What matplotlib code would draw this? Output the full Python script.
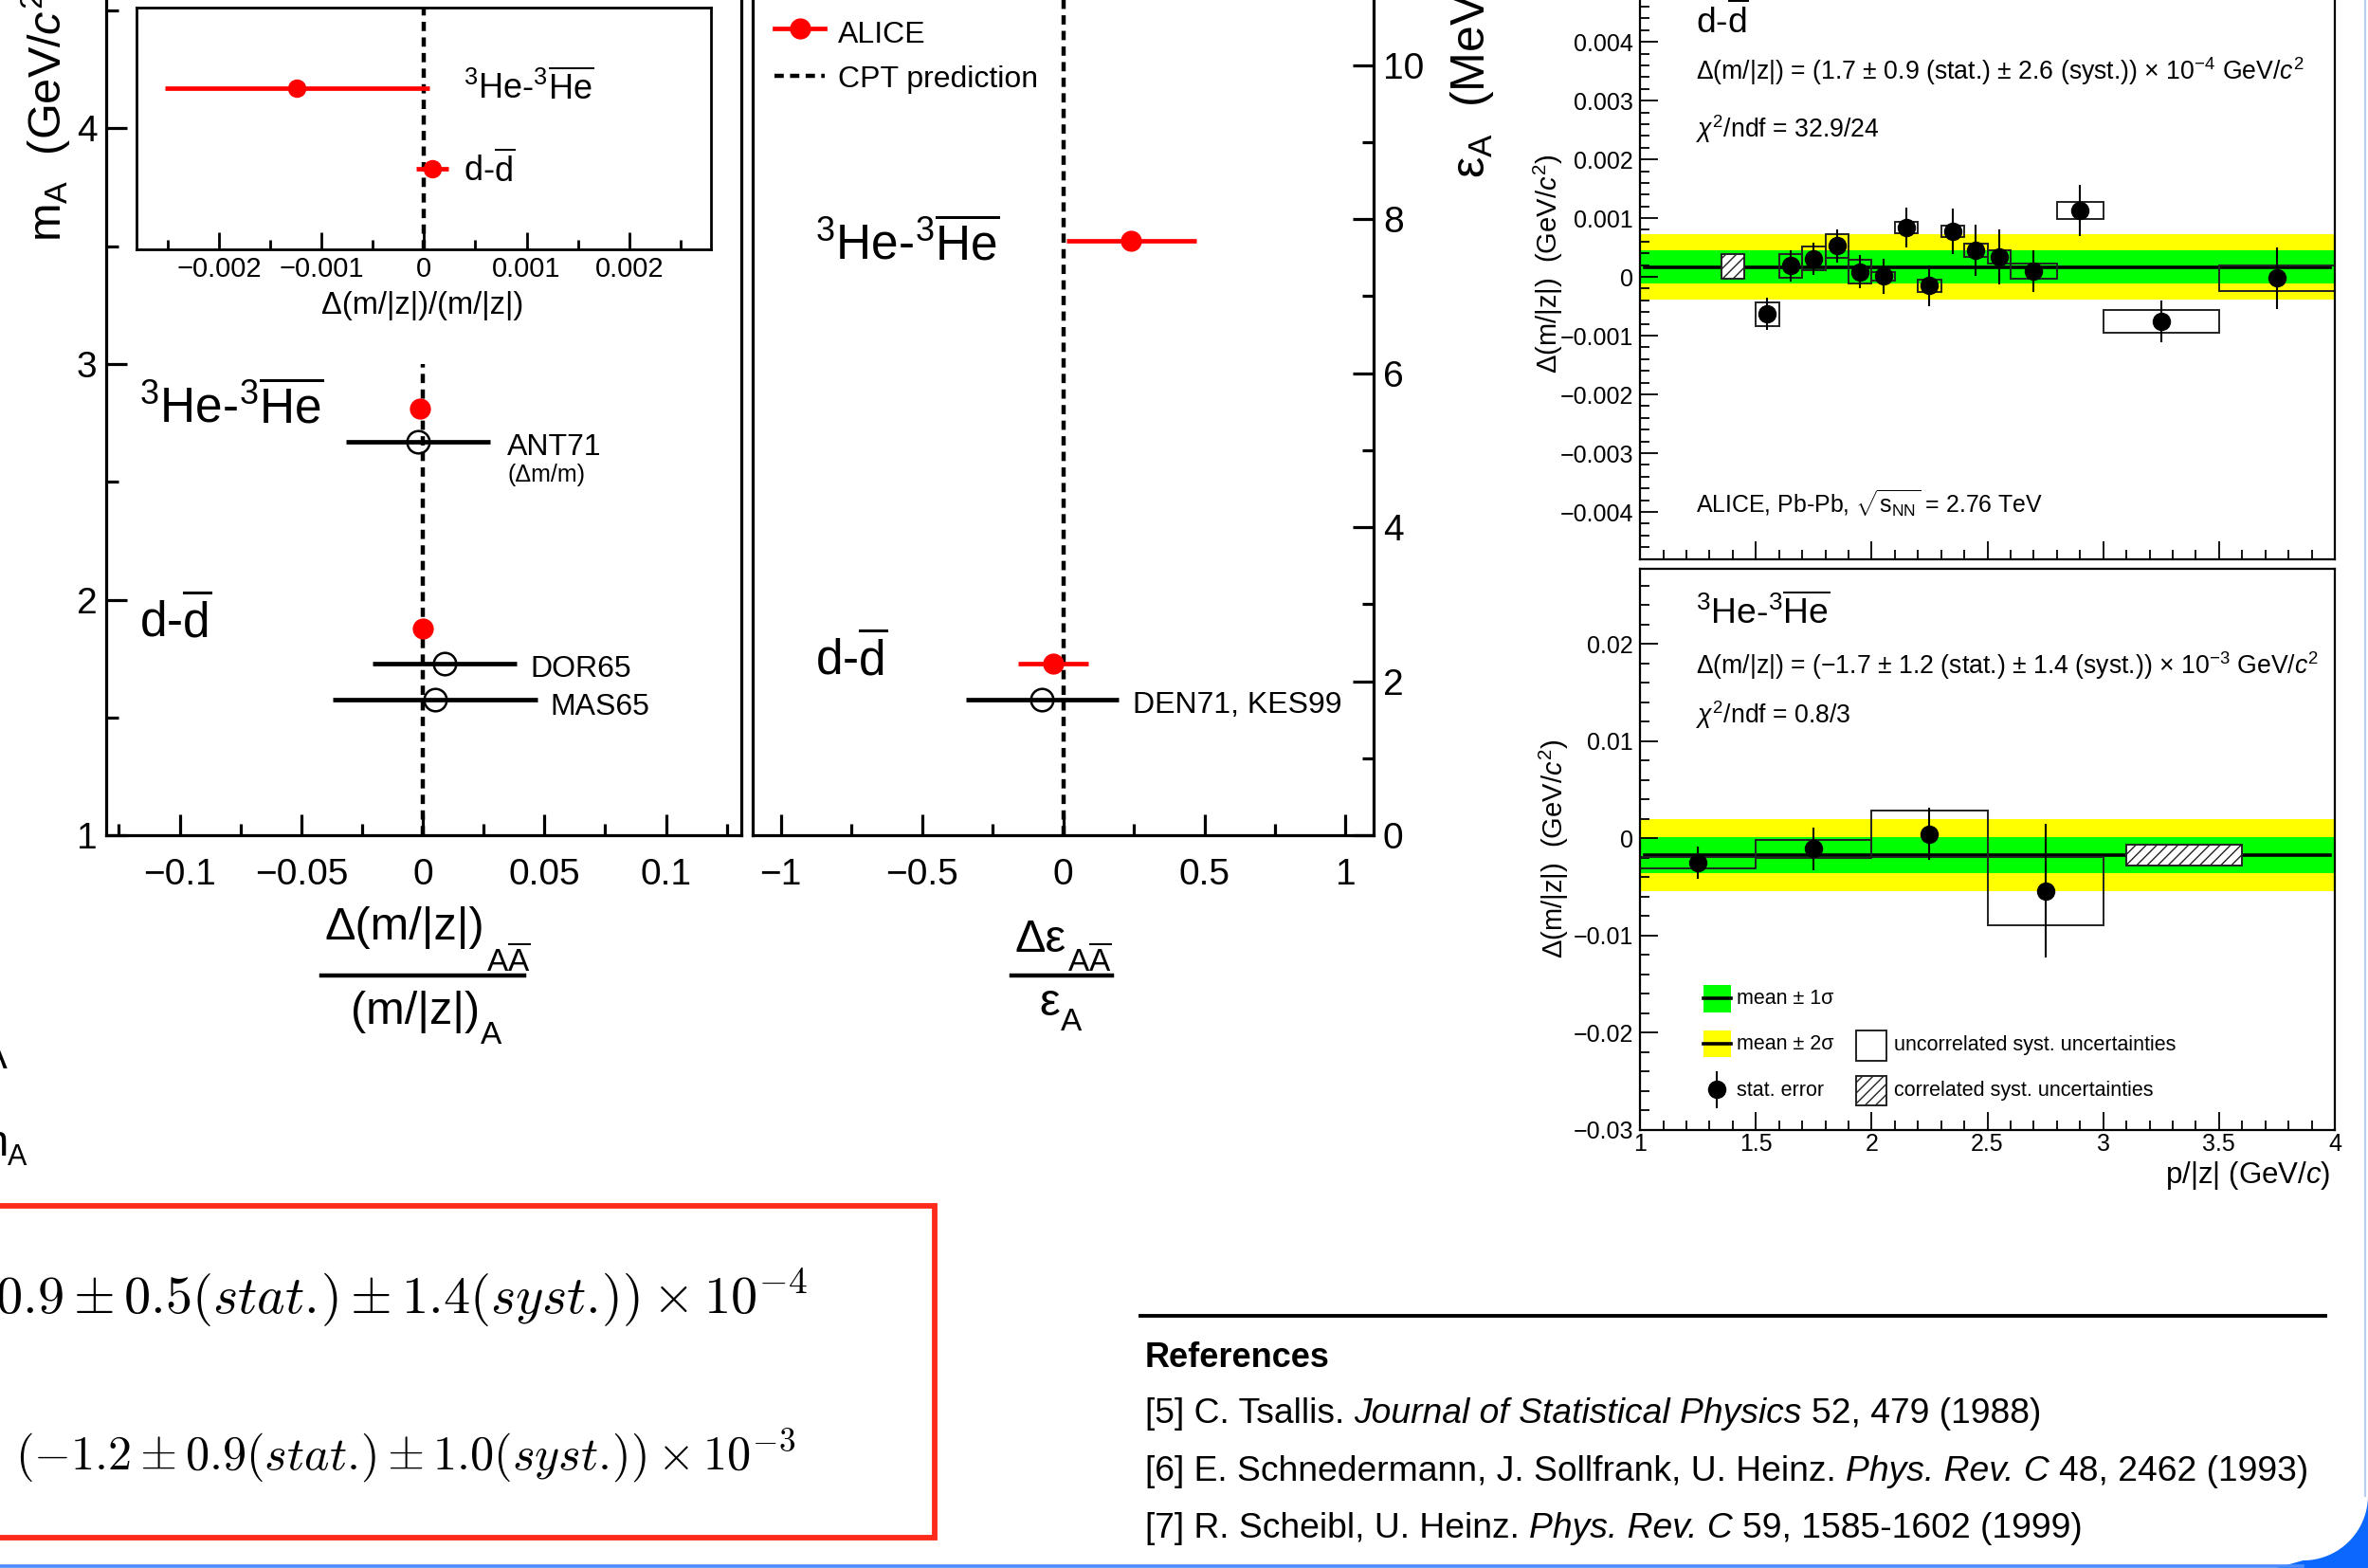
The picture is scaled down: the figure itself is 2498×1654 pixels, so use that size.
import matplotlib
matplotlib.use("Agg")
import matplotlib.pyplot as plt
from matplotlib.patches import Rectangle, Polygon
from matplotlib.lines import Line2D
from matplotlib.ticker import MultipleLocator
import numpy as np

plt.rcParams["font.family"] = ["Liberation Sans", "DejaVu Sans"]
plt.rcParams["mathtext.fontset"] = "custom"
plt.rcParams["mathtext.rm"] = "Liberation Sans"
plt.rcParams["mathtext.it"] = "Liberation Sans:italic"
plt.rcParams["mathtext.bf"] = "Liberation Sans:bold"
plt.rcParams["hatch.linewidth"] = 1.0

# ---------------- data ----------------
# mass / charge comparison, ALICE vs older measurements
species = ["3He", "d"]
mass_alice = [2.809, 1.876]             # m_A (GeV/c^2)
mz_alice = [-0.00124, 0.00008]          # Delta(m/|z|)/(m/|z|)
mz_alice_err = [0.00129, 0.00016]
inset_rows = [2, 1]

mz_old_labels = ["ANT71", "DOR65", "MAS65"]
mz_old_mass = [2.67, 1.727, 1.576]
mz_old = [-0.002, 0.009, 0.005]
mz_old_err = [0.0295, 0.0295, 0.042]

# binding energy comparison
eps_alice = [7.718, 2.224]              # eps_A (MeV)
deps_alice = [0.24, -0.035]
deps_alice_err = [0.23, 0.125]
eps_old_labels = ["DEN71, KES99"]
eps_old = [1.765]
deps_old = [-0.075]
deps_old_err = [0.27]

cpt_prediction = 0.0

# d - dbar vs p/|z|
d_lo = [1.5, 1.6, 1.7, 1.8, 1.9, 2.0, 2.1, 2.2, 2.3, 2.4, 2.5, 2.6, 2.8, 3.0, 3.5]
d_hi = [1.6, 1.7, 1.8, 1.9, 2.0, 2.1, 2.2, 2.3, 2.4, 2.5, 2.6, 2.8, 3.0, 3.5, 4.0]
d_p = [1.55, 1.65, 1.75, 1.85, 1.95, 2.05, 2.15, 2.25, 2.35, 2.45, 2.55, 2.7, 2.9, 3.25, 3.75]
d_val = [-0.00063, 0.00019, 0.00031, 0.00053, 0.00009, 0.00001, 0.00084, -0.00015,
         0.00078, 0.00045, 0.00034, 0.00010, 0.00113, -0.00076, -0.00002]
d_stat = [0.00027, 0.00027, 0.00027, 0.00028, 0.00029, 0.00030, 0.00034, 0.00035,
          0.00039, 0.00044, 0.00046, 0.00036, 0.00043, 0.00035, 0.00052]
d_syst = [0.00020, 0.00020, 0.00020, 0.00020, 0.00020, 0.00007, 0.00009, 0.00010,
          0.00010, 0.00011, 0.00012, 0.00013, 0.00015, 0.00019, 0.00022]
d_corr = (1.35, 1.45, 0.00018, 0.00021)   # lo, hi, centre, half height
d_mean, d_stat_tot, d_syst_tot = 1.7e-4, 0.9e-4, 2.6e-4

# 3He - 3Hebar vs p/|z|
he_lo = [1.0, 1.5, 2.0, 2.5]
he_hi = [1.5, 2.0, 2.5, 3.0]
he_p = [1.25, 1.75, 2.25, 2.75]
he_val = [-0.0025, -0.00105, 0.00045, -0.0054]
he_stat = [0.00164, 0.0022, 0.0027, 0.0069]
he_syst = [0.0006, 0.00094, 0.0024, 0.0035]
he_corr = (3.1, 3.6, -0.0017, 0.00106)
he_mean, he_stat_tot, he_syst_tot = -1.7e-3, 1.2e-3, 1.4e-3

mz_xticks = [-0.1, -0.05, 0, 0.05, 0.1]
mz_xlabels = ["\u22120.1", "\u22120.05", "0", "0.05", "0.1"]
mass_yticks = [1, 2, 3, 4]
inset_xticks = [-0.002, -0.001, 0, 0.001, 0.002]
inset_xlabels = ["\u22120.002", "\u22120.001", "0", "0.001", "0.002"]
eps_xticks = [-1, -0.5, 0, 0.5, 1]
eps_xlabels = ["\u22121", "\u22120.5", "0", "0.5", "1"]
eps_yticks = [0, 2, 4, 6, 8, 10]
d_yticks = [-0.004, -0.003, -0.002, -0.001, 0, 0.001, 0.002, 0.003, 0.004]
d_ylabels = ["\u22120.004", "\u22120.003", "\u22120.002", "\u22120.001", "0",
             "0.001", "0.002", "0.003", "0.004"]
he_yticks = [-0.03, -0.02, -0.01, 0, 0.01, 0.02]
he_ylabels = ["\u22120.03", "\u22120.02", "\u22120.01", "0", "0.01", "0.02"]
p_xticks = [1, 1.5, 2, 2.5, 3, 3.5, 4]
p_xlabels = ["1", "1.5", "2", "2.5", "3", "3.5", "4"]

refs = [
    [("[5] C. Tsallis.", "normal"), ("Journal of Statistical Physics", "italic"),
     ("52, 479 (1988)", "normal")],
    [("[6] E. Schnedermann, J. Sollfrank, U. Heinz.", "normal"), ("Phys. Rev. C", "italic"),
     ("48, 2462 (1993)", "normal")],
    [("[7] R. Scheibl, U. Heinz.", "normal"), ("Phys. Rev. C", "italic"),
     ("59, 1585-1602 (1999)", "normal")],
]

# ---------------- layout helpers (reference pixel grid 1568 x 1038) ----------------
W, H = 1568.0, 1038.0
FIGW, FIGH = 2498, 1654
SC = FIGW / W           # figure pixels per reference pixel


def fx(x):
    return x / W


def fy(y):
    return 1 - y / H


def rect(x0, y0, x1, y1):
    return [fx(x0), fy(y1), (x1 - x0) / W, (y1 - y0) / H]


fig = plt.figure(figsize=(FIGW / 100, FIGH / 100), dpi=100)
fig.patch.set_facecolor("white")
rend = fig.canvas.get_renderer()


def txt(x, y, s, size, **kw):
    kw.setdefault("va", "baseline")
    kw.setdefault("ha", "left")
    return fig.text(fx(x), fy(y), s, fontsize=size, **kw)


def right_edge(t):
    return t.get_window_extent(rend).x1 / SC


def fit(t, target):
    w = t.get_window_extent(rend).width / SC
    t.set_fontsize(t.get_fontsize() * target / w)
    return t.get_fontsize()


def with_sub(x, y, main, sub, size, ssize, sy):
    t = txt(x, y, main, size)
    txt(right_edge(t) + 1, sy, sub, ssize)


def fline(xs, ys, **kw):
    fig.add_artist(Line2D([fx(v) for v in xs], [fy(v) for v in ys],
                          transform=fig.transFigure, **kw))


DASH = (0, (2.2, 1.5))
HE = r"$^{3}$He-$^{3}\overline{\mathrm{He}}$"
DD = r"d-$\overline{\mathrm{d}}$"
AA = r"A$\overline{\mathrm{A}}$"


def style_axis(ax, lw=2.3):
    for s in ax.spines.values():
        s.set_linewidth(lw)


# ---------------- left panel: mass / charge ----------------
ax1 = fig.add_axes(rect(70.5, 553 - 4 * 156, 491, 553))
ax1.set_xlim((70.5 - 280) / 1610, (491 - 280) / 1610)
ax1.set_ylim(1, 5)
style_axis(ax1)
ax1.spines["top"].set_visible(False)
ax1.set_xticks(mz_xticks, mz_xlabels)
ax1.xaxis.set_minor_locator(MultipleLocator(0.025))
ax1.set_yticks(mass_yticks, [str(v) for v in mass_yticks])
ax1.yaxis.set_minor_locator(MultipleLocator(0.5))
ax1.tick_params(which="both", direction="in", top=False, right=False, width=2.3)
ax1.tick_params(which="major", length=16, labelsize=28)
ax1.tick_params(axis="x", which="major", pad=17)
ax1.tick_params(axis="y", which="major", pad=7)
ax1.tick_params(which="minor", length=9)
ax1.axvline(cpt_prediction, ymin=0, ymax=0.5, color="k", lw=3.2, ls=DASH, zorder=1)
ax1.errorbar(mz_old, mz_old_mass, xerr=mz_old_err, fmt="o", ms=17, mfc="none", mec="k",
             mew=1.8, ecolor="k", elinewidth=3.4, capsize=0, zorder=2)
ax1.errorbar(mz_alice, mass_alice, xerr=mz_alice_err, fmt="o", ms=15, color="red",
             elinewidth=3.4, capsize=0, zorder=3)

txt(92, 280, HE, 37)
txt(92, 422, DD, 37)
txt(336, 301, mz_old_labels[0], 23)
txt(336, 319, "(\u0394m/m)", 18)
txt(351, 448, mz_old_labels[1], 23)
txt(364, 473, mz_old_labels[2], 23)

# fraction label under left panel
with_sub(215, 622, "\u0394(m/|z|)", AA, 35, 24, 643)
fline([213, 347], [646, 646], color="k", lw=3.2)
with_sub(232, 678, "(m/|z|)", "A", 35, 24, 691)
txt(30, 160, r"m$_{\mathrm{A}}$  (GeV/$c^{2}$)", 35, rotation=90, ha="center", va="bottom")

# inset
axi = fig.add_axes(rect(90.6, 5, 471, 165))
axi.set_xlim(-0.0028, 0.0028)
axi.set_ylim(0, 3)
style_axis(axi, 2.0)
axi.set_xticks(inset_xticks, inset_xlabels)
axi.xaxis.set_minor_locator(MultipleLocator(0.0005))
axi.set_yticks([])
axi.tick_params(which="both", direction="in", top=False, width=2.0)
axi.tick_params(which="major", length=13, labelsize=21, pad=5)
axi.tick_params(which="minor", length=7)
axi.axvline(cpt_prediction, color="k", lw=3.2, ls=DASH, zorder=1)
axi.errorbar(mz_alice, inset_rows, xerr=mz_alice_err, fmt="o", ms=13, color="red",
             elinewidth=3.4, capsize=0, zorder=3)
txt(307, 66, HE, 26)
txt(307, 120, DD, 26)
txt(280, 208, "\u0394(m/|z|)/(m/|z|)", 23.5, ha="center")

# ---------------- middle panel: binding energy ----------------
ax2 = fig.add_axes(rect(704 - 1.1 * 187, 553 - 12 * 51, 704 + 1.1 * 187, 553))
ax2.set_xlim(-1.1, 1.1)
ax2.set_ylim(0, 12)
style_axis(ax2)
ax2.spines["top"].set_visible(False)
ax2.set_xticks(eps_xticks, eps_xlabels)
ax2.xaxis.set_minor_locator(MultipleLocator(0.25))
ax2.yaxis.tick_right()
ax2.set_yticks(eps_yticks, [str(v) for v in eps_yticks])
ax2.yaxis.set_minor_locator(MultipleLocator(1))
ax2.tick_params(which="both", direction="in", top=False, left=False, width=2.3)
ax2.tick_params(which="major", length=16, labelsize=28)
ax2.tick_params(axis="x", which="major", pad=17)
ax2.tick_params(axis="y", which="major", pad=7)
ax2.tick_params(which="minor", length=9)
ax2.axvline(cpt_prediction, color="k", lw=3.2, ls=DASH, zorder=1)
ax2.errorbar(deps_old, eps_old, xerr=deps_old_err, fmt="o", ms=17, mfc="none", mec="k",
             mew=1.8, ecolor="k", elinewidth=3.4, capsize=0, zorder=2)
ax2.errorbar(deps_alice, eps_alice, xerr=deps_alice_err, fmt="o", ms=15, color="red",
             elinewidth=3.4, capsize=0, zorder=3)
txt(540, 172, HE, 37)
txt(540, 447, DD, 37)
txt(750, 472, eps_old_labels[0], 23)

# legend
fline([513, 546], [19, 19], color="red", lw=3.4)
fig.add_artist(Line2D([fx(529.5)], [fy(19)], marker="o", ms=15, color="red",
                      transform=fig.transFigure))
fline([513, 546], [50, 50], color="k", lw=3.2, ls=DASH)
txt(555, 28, "ALICE", 23)
txt(555, 58, "CPT prediction", 23)

with_sub(672, 630, "\u0394\u03b5", AA, 35, 24, 643)
fline([670, 736], [646, 646], color="k", lw=3.2)
with_sub(688, 672, "\u03b5", "A", 35, 24, 682)
txt(975, 118, "\u03b5$_{\\mathrm{A}}$  (MeV)", 36, rotation=90, ha="center", va="bottom")


# ---------------- right panels (ROOT style) ----------------
def root_panel(ax, lo, hi, p, val, stat, syst, corr, mean, s_stat, s_syst):
    sig = np.hypot(s_stat, s_syst)
    ax.axhspan(mean - 2 * sig, mean + 2 * sig, color="#ffff00", lw=0, zorder=0)
    ax.axhspan(mean - sig, mean + sig, color="#00ff00", lw=0, zorder=0.5)
    ax.axhline(mean, xmin=0.007, xmax=0.993, color="k", lw=2.6, zorder=1)
    for a, b, v, s in zip(lo, hi, val, syst):
        ax.add_patch(Rectangle((a, v - s), b - a, 2 * s, fill=False, ec="#222222",
                               lw=1.4, zorder=2))
    ax.add_patch(Rectangle((corr[0], corr[2] - corr[3]), corr[1] - corr[0], 2 * corr[3],
                           fc="white", ec="#222222", hatch="///", lw=1.4, zorder=2))
    ax.errorbar(p, val, yerr=stat, fmt="o", ms=13, color="k", elinewidth=1.5,
                capsize=0, zorder=3)
    ax.set_xlim(1, 4)
    style_axis(ax, 1.6)
    ax.xaxis.set_minor_locator(MultipleLocator(0.1))
    ax.tick_params(which="both", direction="in", top=False, right=False, width=1.3)
    ax.tick_params(which="major", length=14, labelsize=18)
    ax.tick_params(which="minor", length=7)
    ax.tick_params(axis="y", which="major", pad=5)


ax3 = fig.add_axes(rect(1086, 183.3 - 4.8 * 38.9, 1546, 183.3 + 4.8 * 38.9))
ax3.set_ylim(-0.0048, 0.0048)
root_panel(ax3, d_lo, d_hi, d_p, d_val, d_stat, d_syst, d_corr, d_mean, d_stat_tot, d_syst_tot)
ax3.set_xticks(p_xticks, [""] * len(p_xticks))
ax3.set_yticks(d_yticks, d_ylabels)
ax3.yaxis.set_minor_locator(MultipleLocator(0.0002))
ax3.spines["top"].set_visible(False)

ax4 = fig.add_axes(rect(1086, 748 - 5.77 * 64.33, 1546, 748))
ax4.set_ylim(-0.03, 0.0277)
root_panel(ax4, he_lo, he_hi, he_p, he_val, he_stat, he_syst, he_corr, he_mean,
           he_stat_tot, he_syst_tot)
ax4.set_xticks(p_xticks, p_xlabels)
ax4.set_yticks(he_yticks, he_ylabels)
ax4.yaxis.set_minor_locator(MultipleLocator(0.002))
ax4.tick_params(axis="x", which="major", pad=2)

t = txt(1123, 53, r"$\Delta$(m/|z|) = (1.7 $\pm$ 0.9 (stat.) $\pm$ 2.6 (syst.)) $\times$ 10$^{-4}$ GeV/$c^{2}$", 19)
rs = fit(t, 402)
txt(1123, 22, DD, rs * 1.4)
txt(1123, 91, r"$\chi^{2}$/ndf = 32.9/24", rs)
fit(txt(1123, 340, r"ALICE, Pb-Pb, $\sqrt{\mathrm{s}_{\mathrm{NN}}}$ = 2.76 TeV", rs), 230)
txt(1123, 413, HE, rs * 1.4)
txt(1123, 446, r"$\Delta$(m/|z|) = ($-$1.7 $\pm$ 1.2 (stat.) $\pm$ 1.4 (syst.)) $\times$ 10$^{-3}$ GeV/$c^{2}$", rs)
txt(1123, 479, r"$\chi^{2}$/ndf = 0.8/3", rs)
txt(1025, 175, r"$\Delta$(m/|z|)  (GeV/$c^{2}$)", 21, rotation=90, ha="center", va="center")
txt(1029, 562, r"$\Delta$(m/|z|)  (GeV/$c^{2}$)", 21, rotation=90, ha="center", va="center")
txt(1543, 778, r"p/|z| (GeV/$c$)", 22.5, ha="right", va="center")

# ROOT legend (bottom panel)
lg = 15.5
fig.add_artist(Rectangle((fx(1128), fy(670)), 18 / W, 18 / H, fc="#00ff00", lw=0,
                         transform=fig.transFigure))
fline([1128, 1146], [661, 661], color="k", lw=2.6)
fig.add_artist(Rectangle((fx(1128), fy(700)), 18 / W, 18 / H, fc="#ffff00", lw=0,
                         transform=fig.transFigure))
fline([1128, 1146], [691, 691], color="k", lw=2.6)
fline([1137, 1137], [710, 733], color="k", lw=1.5)
fig.add_artist(Line2D([fx(1137)], [fy(721)], marker="o", ms=13, color="k",
                      transform=fig.transFigure))
fig.add_artist(Rectangle((fx(1229), fy(702)), 20 / W, 20 / H, fc="white", ec="#222222",
                         lw=1.4, transform=fig.transFigure))
fig.add_artist(Rectangle((fx(1229), fy(732)), 20 / W, 20 / H, fc="white", ec="#222222",
                         hatch="///", lw=1.4, transform=fig.transFigure))
txt(1150, 661, "mean \u00b1 1\u03c3", lg, va="center")
txt(1150, 691, "mean \u00b1 2\u03c3", lg, va="center")
txt(1150, 722, "stat. error", lg, va="center")
txt(1254, 692, "uncorrelated syst. uncertainties", lg, va="center")
txt(1254, 722, "correlated syst. uncertainties", lg, va="center")

# ---------------- bottom-left: result box ----------------
fig.add_artist(Rectangle((fx(-10), fy(1018)), 629 / W, 220 / H, fill=False, ec="#ff2a1a",
                         lw=4.2, transform=fig.transFigure))
t2 = txt(10, 973, r"$(-1.2\pm0.9(stat.\!)\pm1.0(syst.\!))\times10^{-3}$", 34,
         math_fontfamily="cm")
bs = fit(t2, 517)
txt(535, 870, r"$=(0.9\pm0.5(stat.\!)\pm1.4(syst.\!))\times10^{-4}$", bs * 1.12, ha="right",
    math_fontfamily="cm")

# cropped fragments at the left edge
txt(5, 707, "A", 30, ha="right")
txt(6, 765, "m", 34, ha="right")
txt(5, 771, "A", 22)

# ---------------- references ----------------
fline([755, 1540], [871, 871], color="k", lw=2.8)
txt(758, 905, "References", 26, weight="bold")


def draw_runs(x, y, parts, size):
    cur = x
    out = []
    gap = 0.278 * size / 0.72 / SC
    for s, st in parts:
        t = txt(cur, y, s, size, style=st)
        out.append(t)
        cur = right_edge(t) + gap
    return out, cur - gap - x


ref_y = [942, 980, 1018]
ts, wdt = draw_runs(758, ref_y[0], refs[0], 26)
for t in ts:
    t.remove()
rsize = 26 * (1352 - 758) / wdt
for yy, parts in zip(ref_y, refs):
    draw_runs(758, yy, parts, rsize)

# ---------------- poster frame (blue rounded corner) ----------------
fline([0, 1525], [1036.8, 1036.8], color="#4a8cff", lw=2.6)
fline([1566.2, 1566.2], [0, 990], color="#b8cdf0", lw=1.6)
ang = np.linspace(0, np.pi / 2, 40)
arc = [(fx(1525 + 43 * np.cos(a)), fy(990 + 43 * np.sin(a))) for a in ang]
corner = arc + [(fx(1500), fy(1040)), (fx(1570), fy(1040)), (fx(1570), fy(990))]
fig.add_artist(Polygon(corner, closed=True, fc="#0a68ff", ec="none",
                       transform=fig.transFigure))

fig.savefig("out.png", dpi=100)
